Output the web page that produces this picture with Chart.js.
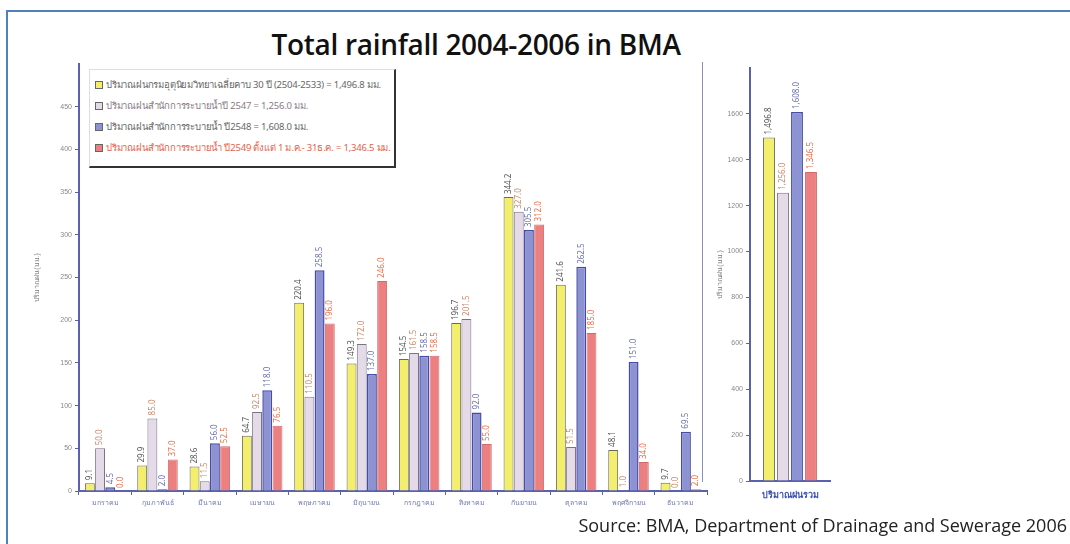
<!DOCTYPE html>
<html>
<head>
<meta charset="utf-8">
<script src="https://cdn.jsdelivr.net/npm/chart.js@4.4.1/dist/chart.umd.min.js"></script>
<style>
  body { margin: 0; width: 1070px; height: 544px; background: #fff; position: relative; overflow: hidden; font-family: "Noto Sans", "DejaVu Sans", sans-serif; }
  #frame { position: absolute; left: 6px; top: 10px; width: 1100px; height: 600px; border-top: 2px solid #4f81bd; border-left: 2px solid #4f81bd; }
  #title { position: absolute; left: 476px; top: 25px; transform: translateX(-50%); white-space: nowrap; font: 600 28px "Open Sans", sans-serif; color: #111; letter-spacing: -0.3px; }
  #source { position: absolute; right: 3px; top: 513px; white-space: nowrap; font: 18px "Open Sans", sans-serif; color: #222; }
  #sep { position: absolute; left: 702px; top: 62px; width: 1px; height: 420px; background: #8a90b8; }
  #leftBox { position: absolute; left: 20px; top: 55px; width: 690px; height: 465px; }
  #rightBox { position: absolute; left: 700px; top: 55px; width: 140px; height: 465px; }
  #legend { position: absolute; left: 89px; top: 69px; width: 304px; height: 96px; background: #fff; border-top: 1px solid #ddd; border-left: 1px solid #ddd; border-right: 2px solid #333; border-bottom: 2px solid #333; font-size: 9.5px; }
  #legend div { position: absolute; left: 5px; white-space: nowrap; letter-spacing: -0.2px; }
  #legend span.m { display: inline-block; width: 6px; height: 6px; border: 1px solid #666; margin-right: 3px; vertical-align: -1px; }
</style>
</head>
<body>
<div id="frame"></div>
<div id="title">Total rainfall 2004-2006 in BMA</div>
<div id="leftBox"><canvas id="monthly"></canvas></div>
<div id="sep"></div>
<div id="rightBox"><canvas id="total"></canvas></div>
<div id="legend"></div>
<div id="source">Source: BMA, Department of Drainage and Sewerage 2006</div>
<script>
// monthly rainfall (mm)
const months = ['มกราคม', 'กุมภาพันธ์', 'มีนาคม', 'เมษายน', 'พฤษภาคม', 'มิถุนายน',
  'กรกฎาคม', 'สิงหาคม', 'กันยายน', 'ตุลาคม', 'พฤศจิกายน', 'ธันวาคม'];
const avg30 = [9.1, 29.9, 28.6, 64.7, 220.4, 149.3, 154.5, 196.7, 344.2, 241.6, 48.1, 9.7];
const y2547 = [50.0, 85.0, 11.5, 92.5, 110.5, 172.0, 161.5, 201.5, 327.0, 51.5, 1.0, 0.0];
const y2548 = [4.5, 2.0, 56.0, 118.0, 258.5, 137.0, 158.5, 92.0, 305.5, 262.5, 151.0, 69.5];
const y2549 = [0.0, 37.0, 52.5, 76.5, 196.0, 246.0, 158.5, 55.0, 312.0, 185.0, 34.0, 2.0];

// yearly totals (mm)
const totalLabel = ['ปริมาณฝนรวม'];
const totals = [1496.8, 1256.0, 1608.0, 1346.5];

const seriesNames = [
  'ปริมาณฝนกรมอุตุนิยมวิทยาเฉลี่ยคาบ 30 ปี (2504-2533) = 1,496.8 มม.',
  'ปริมาณฝนสำนักการระบายน้ำปี 2547 = 1,256.0 มม.',
  'ปริมาณฝนสำนักการระบายน้ำ ปี2548 = 1,608.0 มม.',
  'ปริมาณฝนสำนักการระบายน้ำ ปี2549 ตั้งแต่ 1 ม.ค.- 31ธ.ค. = 1,346.5 มม.'
];
const yTitle = 'ปริมาณฝน(มม.)';
const leftStep = 50, leftMax = 500, leftLastTick = 450;
const rightStep = 200, rightMax = 1800, rightLastTick = 1600;

const fills = ['#f3ef6c', '#e5dae8', '#8c92d2', '#ec8080'];
const borders = ['#6a6a5a', '#7a7480', '#454ca8', '#cf6b6b'];
const textColors = ['#555', '#c98a6a', '#6a70a8', '#e8704a'];
const axisBlue = '#5a62b0';

// legend
const legendEl = document.getElementById('legend');
seriesNames.forEach((name, i) => {
  const row = document.createElement('div');
  row.style.top = (7 + i * 21) + 'px';
  row.style.color = i === 3 ? '#e8604a' : (i === 1 ? '#8a7a86' : '#666');
  row.innerHTML = '<span class="m" style="background:' + fills[i] + '"></span>' + name;
  legendEl.appendChild(row);
});

const valueLabels = {
  id: 'valueLabels',
  afterDatasetsDraw(chart, args, opts) {
    const ctx = chart.ctx;
    chart.data.datasets.forEach((ds, i) => {
      chart.getDatasetMeta(i).data.forEach((bar, j) => {
        ctx.save();
        ctx.translate(bar.x, bar.y - 3);
        ctx.rotate(-Math.PI / 2);
        ctx.font = opts.font;
        ctx.fillStyle = textColors[i];
        ctx.textAlign = 'left';
        ctx.textBaseline = 'middle';
        ctx.fillText(opts.format(ds.data[j]), 0, 0);
        ctx.restore();
      });
    });
  }
};

function makeDatasets(arrays, catPct, barPct) {
  return arrays.map((arr, i) => ({
    label: seriesNames[i],
    data: arr,
    backgroundColor: fills[i],
    borderColor: borders[i],
    borderWidth: i === 2 ? 1.5 : 1,
    categoryPercentage: catPct,
    barPercentage: barPct
  }));
}

function yAxis(step, max, last, width) {
  return {
    min: 0,
    max: max,
    ticks: {
      stepSize: step,
      color: '#888',
      font: { size: 7 },
      padding: 3,
      callback: v => v <= last ? v : ''
    },
    grid: {
      drawOnChartArea: false,
      tickLength: 4,
      color: c => (c.tick && c.tick.value > last) ? 'rgba(0,0,0,0)' : axisBlue
    },
    border: { color: axisBlue, width: 2 },
    title: { display: true, text: yTitle, color: '#777', font: { size: 7 }, padding: 0 },
    afterFit: s => { s.width = width; }
  };
}

new Chart(document.getElementById('monthly'), {
  type: 'bar',
  data: { labels: months, datasets: makeDatasets([avg30, y2547, y2548, y2549], 0.78, 0.97) },
  options: {
    responsive: true,
    maintainAspectRatio: false,
    animation: false,
    layout: { padding: { left: 13, top: 9, right: 3, bottom: 0 } },
    plugins: {
      legend: { display: false },
      tooltip: { enabled: false },
      valueLabels: { font: '8px "Noto Sans", sans-serif', format: v => v.toFixed(1) }
    },
    scales: {
      x: {
        ticks: { color: '#7078b0', font: { size: 7 }, padding: 4, maxRotation: 0, autoSkip: false },
        grid: { drawOnChartArea: false, tickLength: 4, color: axisBlue, offset: true },
        border: { color: axisBlue, width: 2 },
        afterFit: s => { s.height = 29; }
      },
      y: yAxis(leftStep, leftMax, leftLastTick, 46)
    }
  },
  plugins: [valueLabels]
});

new Chart(document.getElementById('total'), {
  type: 'bar',
  data: { labels: totalLabel, datasets: makeDatasets(totals.map(v => [v]), 0.7, 0.85) },
  options: {
    responsive: true,
    maintainAspectRatio: false,
    animation: false,
    layout: { padding: { left: 16, top: 13, right: 10, bottom: 0 } },
    plugins: {
      legend: { display: false },
      tooltip: { enabled: false },
      valueLabels: {
        font: '8px "Noto Sans", sans-serif',
        format: v => v.toLocaleString('en-US', { minimumFractionDigits: 1 })
      }
    },
    scales: {
      x: {
        ticks: { color: '#3a50b0', font: { size: 9, weight: 'bold' }, padding: 9, maxRotation: 0 },
        grid: { drawOnChartArea: false, drawTicks: false },
        border: { color: axisBlue, width: 2 },
        afterFit: s => { s.height = 39; }
      },
      y: yAxis(rightStep, rightMax, rightLastTick, 34)
    }
  },
  plugins: [valueLabels]
});
</script>
</body>
</html>
